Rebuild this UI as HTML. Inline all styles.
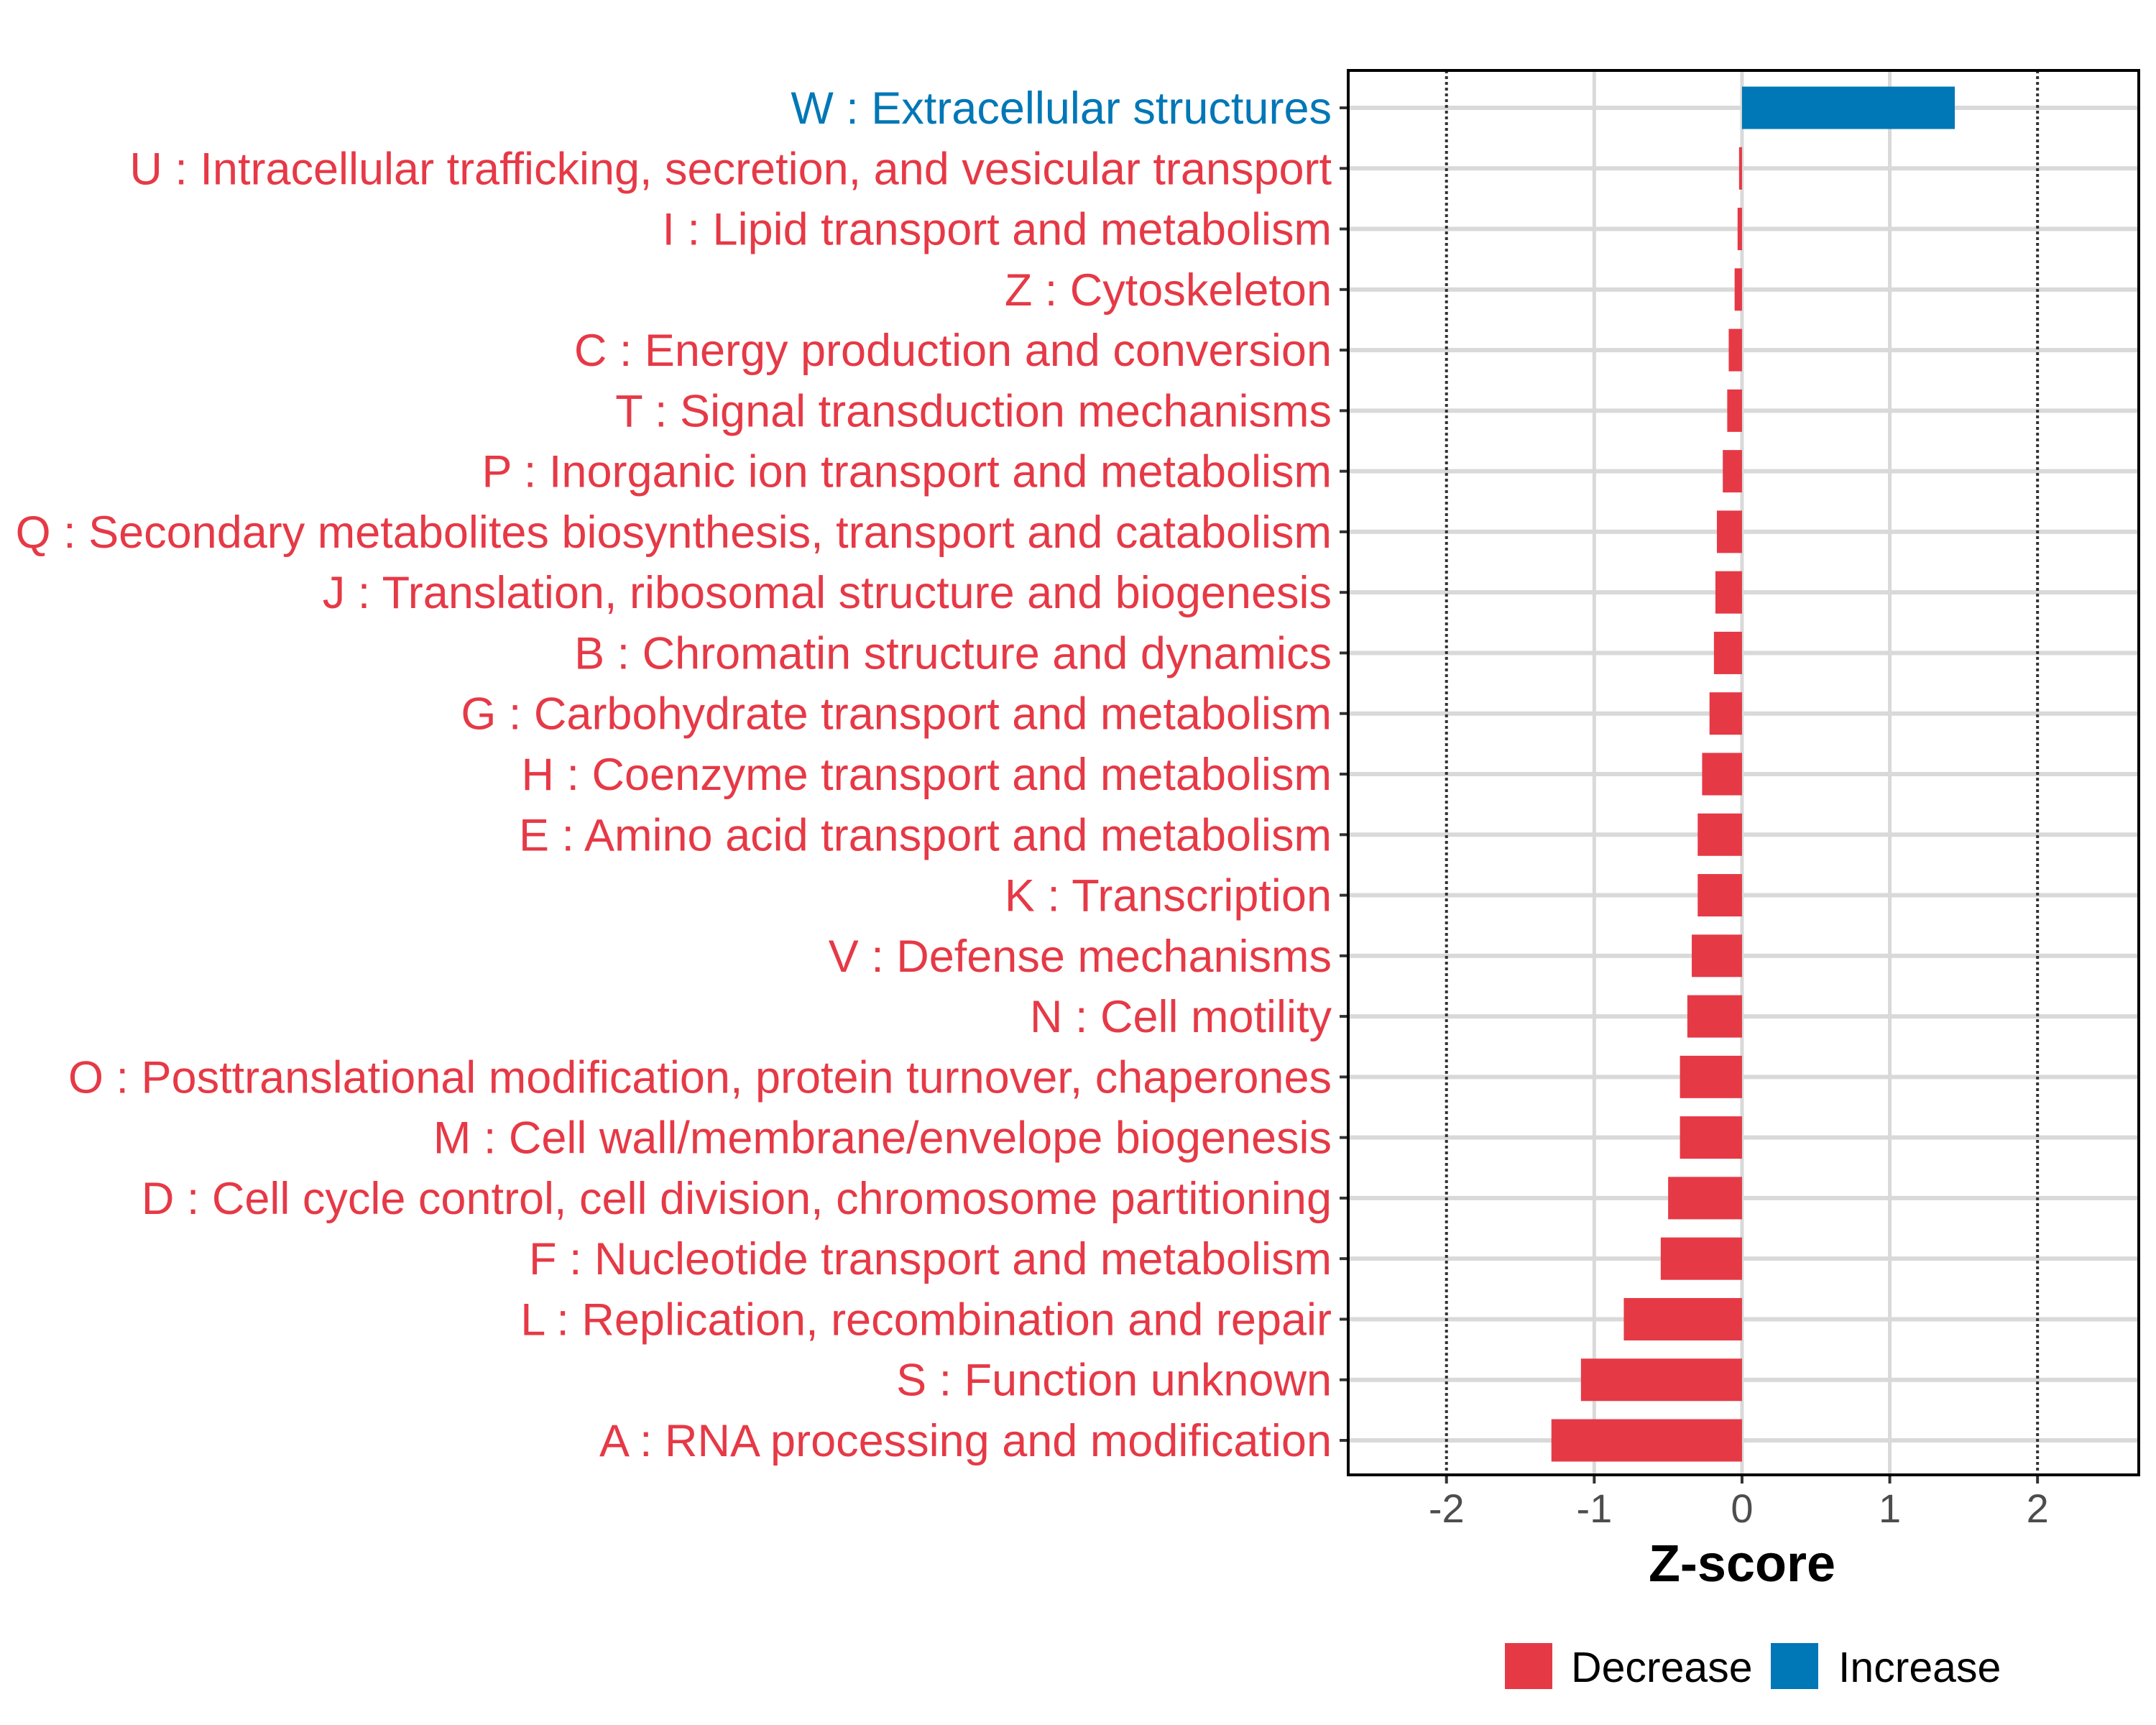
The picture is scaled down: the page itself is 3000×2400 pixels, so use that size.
<!DOCTYPE html>
<html><head><meta charset="utf-8"><style>
html,body{margin:0;padding:0;background:#fff;}
svg{display:block;font-family:"Liberation Sans",Arial,sans-serif;}
</style></head><body>
<svg id="chart" width="3000" height="2400" viewBox="0 0 3000 2400" xmlns="http://www.w3.org/2000/svg">
<rect x="0" y="0" width="3000" height="2400" fill="#fff"/>
<g id="grid"></g>
<g id="bars"></g>
<g id="labels"></g>
<g id="xaxis"></g>
<rect x="1876" y="98" width="1100" height="1954" fill="none" stroke="#000" stroke-width="4"/>
<text x="2424" y="2200" text-anchor="middle" font-size="72" font-weight="bold" fill="#000">Z-score</text>
<g>
<rect x="2094" y="2286" width="66" height="64" fill="#E63946"/>
<text x="2186" y="2340" font-size="59" fill="#000">Decrease</text>
<rect x="2464" y="2286" width="66" height="64" fill="#0077B6"/>
<text x="2558" y="2340" font-size="59" fill="#000">Increase</text>
</g>
</svg>
<script>
const categories = ["W : Extracellular structures","U : Intracellular trafficking, secretion, and vesicular transport","I : Lipid transport and metabolism","Z : Cytoskeleton","C : Energy production and conversion","T : Signal transduction mechanisms","P : Inorganic ion transport and metabolism","Q : Secondary metabolites biosynthesis, transport and catabolism","J : Translation, ribosomal structure and biogenesis","B : Chromatin structure and dynamics","G : Carbohydrate transport and metabolism","H : Coenzyme transport and metabolism","E : Amino acid transport and metabolism","K : Transcription","V : Defense mechanisms","N : Cell motility","O : Posttranslational modification, protein turnover, chaperones","M : Cell wall/membrane/envelope biogenesis","D : Cell cycle control, cell division, chromosome partitioning","F : Nucleotide transport and metabolism","L : Replication, recombination and repair","S : Function unknown","A : RNA processing and modification"];
const zscores = [1.44,-0.02,-0.03,-0.05,-0.09,-0.10,-0.13,-0.17,-0.18,-0.19,-0.22,-0.27,-0.30,-0.30,-0.34,-0.37,-0.42,-0.42,-0.50,-0.55,-0.80,-1.09,-1.29];
const xTicks = [-2,-1,0,1,2];
const xTickLabels = ["-2","-1","0","1","2"];

const NS="http://www.w3.org/2000/svg";
const L=1876,R=2976,T=98,B=2052;
const xMin=-2.665,xMax=2.685;
function xs(v){return L+(v-xMin)/(xMax-xMin)*(R-L);}
const rowTop=150,rowBot=2004;
function ys(i){return rowTop+i*(rowBot-rowTop)/(categories.length-1);}
const step=(rowBot-rowTop)/(categories.length-1);
function mk(tag,attrs,parent){const e=document.createElementNS(NS,tag);for(const k in attrs)e.setAttribute(k,attrs[k]);parent.appendChild(e);return e;}
const grid=document.getElementById('grid'),bars=document.getElementById('bars'),labels=document.getElementById('labels'),xaxis=document.getElementById('xaxis');
xTicks.forEach(v=>{
  if(Math.abs(v)===2)return;
  const ln=mk('line',{x1:xs(v),x2:xs(v),y1:T,y2:B,stroke:'#d9d9d9','stroke-width':5},grid);
  
  
});
categories.forEach((c,i)=>{
  const ln=mk('line',{x1:L,x2:R,y1:ys(i),y2:ys(i),stroke:'#d9d9d9','stroke-width':6},grid);
  
  
});
[-2,2].forEach(v=>{
  const ln=mk('line',{x1:xs(v),x2:xs(v),y1:T,y2:B,stroke:'#333','stroke-width':4,'stroke-dasharray':'4,4'},grid);
  
  
});
const bh=step*0.7;
categories.forEach((c,i)=>{
  const v=zscores[i];
  const x0=xs(0),x1=xs(v);
  const col=v>=0?'#0077B6':'#E63946';
  const r=mk('rect',{x:Math.min(x0,x1),y:ys(i)-bh/2,width:Math.max(Math.abs(x1-x0),1),height:bh,fill:col},bars);
  
  
  const t=mk('text',{x:1853,y:ys(i)+22,'text-anchor':'end','font-size':63,fill:col},labels);
  t.textContent=c;
  
  
  const tk=mk('line',{x1:1864,x2:L,y1:ys(i),y2:ys(i),stroke:'#333','stroke-width':4},labels);
  
  
});
xTicks.forEach((v,i)=>{
  const tk=mk('line',{x1:xs(v),x2:xs(v),y1:B,y2:B+12,stroke:'#333','stroke-width':4},xaxis);
  
  
  const t=mk('text',{x:xs(v),y:2118,'text-anchor':'middle','font-size':56,fill:'#4d4d4d'},xaxis);
  t.textContent=xTickLabels[i];
  
  
});
</script>
</body></html>
